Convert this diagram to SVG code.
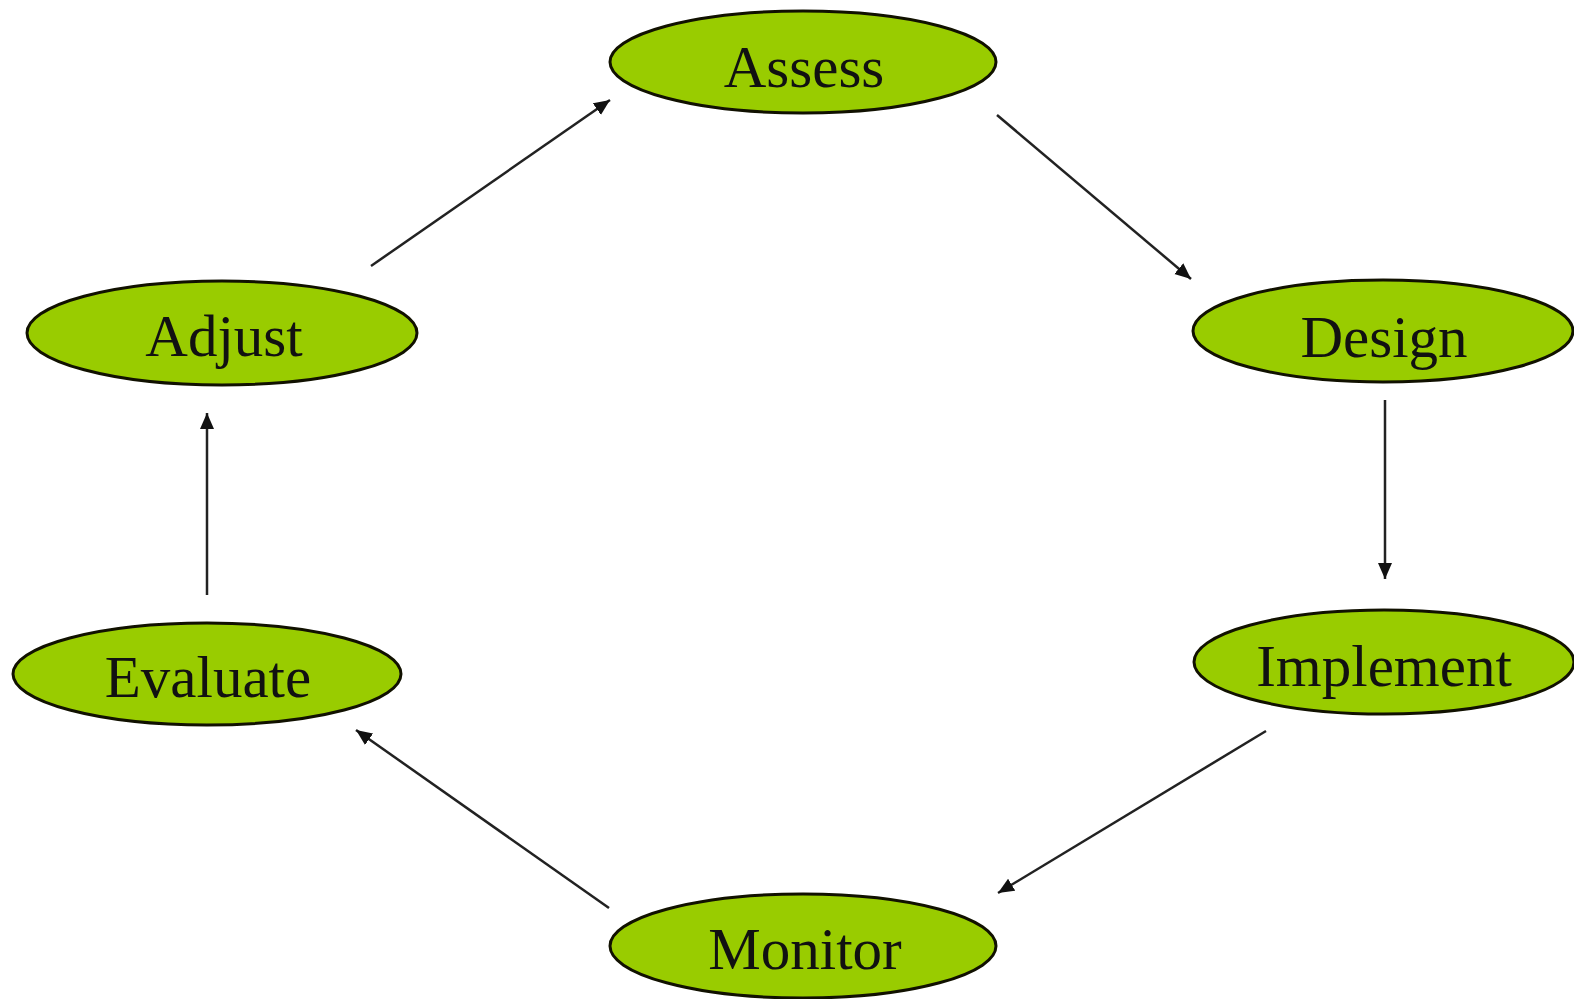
<svg xmlns="http://www.w3.org/2000/svg" width="1574" height="999" viewBox="0 0 1574 999">
<defs>
<marker id="arr" markerUnits="userSpaceOnUse" markerWidth="18" markerHeight="15" refX="16" refY="7" orient="auto">
<path d="M0,0 L16,7 L0,14 z" fill="#111"/>
</marker>
<style>
.node ellipse{fill:#99cc00;stroke:#111100;stroke-width:3}
.node text{font-family:"Liberation Serif","Times New Roman",serif;font-size:59px;fill:#111;text-anchor:middle}
.conn line{stroke:#222;stroke-width:2.5;marker-end:url(#arr)}
</style>
</defs>
<rect width="1574" height="999" fill="#fff"/>
<g class="conn" id="connectors">
<line x1="371" y1="266" x2="610" y2="100"/>
<line x1="997" y1="115" x2="1191" y2="279"/>
<line x1="1385" y1="400" x2="1385" y2="579"/>
<line x1="1266" y1="731" x2="998" y2="893"/>
<line x1="609" y1="908" x2="356" y2="730"/>
<line x1="207" y1="595" x2="207" y2="413"/>
</g>
<g class="node" id="assess"><ellipse cx="803" cy="62" rx="193" ry="51"/><text x="804" y="87">Assess</text></g>
<g class="node" id="design"><ellipse cx="1383" cy="331" rx="190" ry="51"/><text x="1384" y="357">Design</text></g>
<g class="node" id="implement"><ellipse cx="1384" cy="662" rx="190" ry="52"/><text x="1384" y="686">Implement</text></g>
<g class="node" id="monitor"><ellipse cx="803" cy="946" rx="193" ry="52"/><text x="805" y="969">Monitor</text></g>
<g class="node" id="evaluate"><ellipse cx="207" cy="674" rx="194" ry="51"/><text x="208" y="697">Evaluate</text></g>
<g class="node" id="adjust"><ellipse cx="222" cy="333" rx="195" ry="52"/><text x="224" y="356">Adjust</text></g>
</svg>
